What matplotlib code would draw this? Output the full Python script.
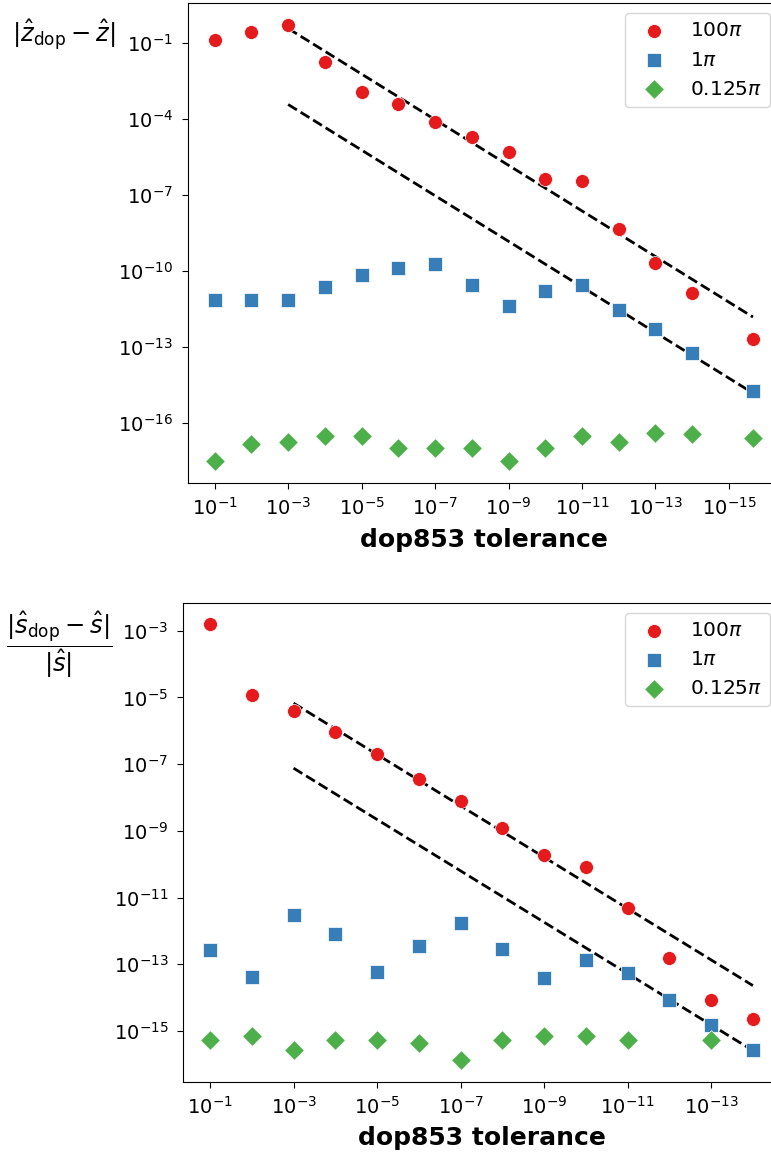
import numpy as np
import matplotlib
matplotlib.use('Agg')
import matplotlib.pyplot as plt
from matplotlib.ticker import FixedLocator, NullLocator

# tolerances used in each panel
tol_z = [1e-1, 1e-2, 1e-3, 1e-4, 1e-5, 1e-6, 1e-7, 1e-8, 1e-9, 1e-10,
         1e-11, 1e-12, 1e-13, 1e-14, 2.22e-16]
tol_s = [1e-1, 1e-2, 1e-3, 1e-4, 1e-5, 1e-6, 1e-7, 1e-8, 1e-9, 1e-10,
         1e-11, 1e-12, 1e-13, 1e-14]

labels = [r'$100\pi$', r'$1\pi$', r'$0.125\pi$']

# |z_dop - z|
z_100 = [0.13, 0.27, 0.5, 1.7e-2, 1.2e-3, 3.7e-4, 7.6e-5, 1.95e-5, 5e-6, 4.2e-7,
         3.7e-7, 4.7e-9, 2e-10, 1.3e-11, 2e-13]
z_1 = [7.4e-12, 7.4e-12, 7.4e-12, 2.4e-11, 6.9e-11, 1.35e-10, 1.95e-10, 2.8e-11,
       4.3e-12, 1.55e-11, 2.9e-11, 2.8e-12, 5.3e-13, 5.7e-14, 1.8e-15]
z_0125 = [3.2e-18, 1.5e-17, 1.8e-17, 3.1e-17, 3.1e-17, 1.07e-17, 1.07e-17, 1.07e-17,
          3.2e-18, 1.07e-17, 3.1e-17, 1.8e-17, 4.2e-17, 3.8e-17, 2.6e-17]

# |s_dop - s| / |s|
s_100 = [1.55e-3, 1.2e-5, 3.9e-6, 9.5e-7, 1.95e-7, 3.5e-8, 7.8e-9, 1.2e-9, 1.85e-10,
         8.1e-11, 4.9e-12, 1.5e-13, 8.3e-15, 2.2e-15]
s_1 = [2.7e-13, 4e-14, 2.95e-12, 7.9e-13, 5.8e-14, 3.5e-13, 1.74e-12, 2.8e-13,
       3.8e-14, 1.35e-13, 5.4e-14, 8.5e-15, 1.5e-15, 2.6e-16]
s_0125 = [5.4e-16, 6.8e-16, 2.7e-16, 5.4e-16, 5.4e-16, 4.3e-16, 1.35e-16, 5.4e-16,
          6.8e-16, 6.8e-16, 5.4e-16, np.nan, 5.4e-16, np.nan]

# reference slopes  (C * tol**p)
z_fit = [(186.0, 0.9), (0.186, 0.9)]
s_fit = [(1.38e-3, 0.77), (1.55e-5, 0.77)]

colors = ['#e41a1c', '#377eb8', '#4daf4a']
markers = ['o', 's', 'D']

fig = plt.figure(figsize=(7.71, 11.57), dpi=100)
ax1 = fig.add_axes([0.2435, 0.5828, 0.768, 0.4143])
ax2 = fig.add_axes([0.2372, 0.0651, 0.7745, 0.4140])


def draw(ax, tol, series, fits, xticks, yticks):
    tol = np.array(tol)
    for y, c, m, lab in zip(series, colors, markers, labels):
        ax.scatter(tol, y, color=c, marker=m, s=100, edgecolor='white',
                   linewidth=0.5, label=lab, zorder=3)
    xx = tol[2:]
    for C, p in fits:
        ax.plot(xx, C * xx ** p, 'k--', lw=2, zorder=2)
    ax.set_xscale('log')
    ax.set_yscale('log')
    ax.invert_xaxis()
    ax.xaxis.set_major_locator(FixedLocator(xticks))
    ax.yaxis.set_major_locator(FixedLocator(yticks))
    ax.xaxis.set_minor_locator(NullLocator())
    ax.yaxis.set_minor_locator(NullLocator())
    ax.tick_params(labelsize=14, length=4.5, pad=6)
    ax.set_xlabel('dop853 tolerance', fontsize=18, fontweight='bold', labelpad=6)
    ax.legend(loc='upper right', fontsize=14.5)


draw(ax1, tol_z, [z_100, z_1, z_0125], z_fit,
     [10.0 ** -k for k in range(1, 16, 2)], [10.0 ** -k for k in range(1, 17, 3)])
draw(ax2, tol_s, [s_100, s_1, s_0125], s_fit,
     [10.0 ** -k for k in range(1, 14, 2)], [10.0 ** -k for k in range(3, 16, 2)])

ax1.set_ylabel(r'$|\hat{z}_{\rm dop} - \hat{z}|$', rotation=0, fontsize=17.5,
               ha='center', va='center')
ax1.yaxis.set_label_coords(-0.209, 0.933)
ax2.set_ylabel(r'$\dfrac{|\hat{s}_{\rm dop} - \hat{s}|}{|\hat{s}|}$', rotation=0,
               fontsize=17.5, ha='center', va='center')
ax2.yaxis.set_label_coords(-0.208, 0.913)

plt.savefig('out.png', dpi=100)
